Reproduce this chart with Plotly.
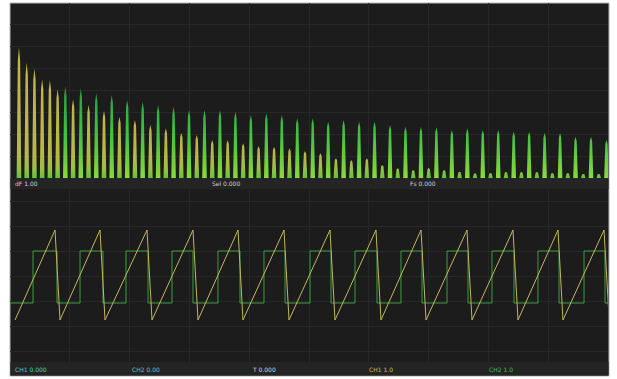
import plotly.graph_objects as go
from plotly.subplots import make_subplots

# spectrum peaks (harmonic index, level in dB)
saw_n = [1, 2, 3, 4, 5, 6, 8, 10, 12, 14, 16, 18, 20, 22, 24, 26, 28, 30, 32, 34, 36,
         38, 40, 42, 44, 46, 48, 50, 52, 54, 56, 58, 60, 62, 64, 66, 68, 70, 72, 74, 76]
saw_db = [-25.3, -34.1, -37.3, -43.5, -43.9, -49.2, -54.9, -58.2, -61.4, -64.9, -66.7,
          -69.6, -71.5, -74.0, -75.3, -78.2, -78.2, -80.0, -81.6, -82.0, -82.9, -84.4,
          -85.7, -88.6, -89.6, -88.6, -92.4, -94.3, -95.3, -94.1, -95.3, -96.2, -97.1,
          -97.0, -96.4, -96.4, -96.4, -97.0, -97.0, -97.5, -97.5]
sq_n = [7, 9, 11, 13, 15, 17, 19, 21, 23, 25, 27, 29, 31, 33, 35, 37, 39, 41, 43, 45,
        47, 49, 51, 53, 55, 57, 59, 61, 63, 65, 67, 69, 71, 73, 75, 77]
sq_db = [-47.7, -48.7, -51.5, -52.5, -55.3, -56.3, -58.2, -59.2, -61.0, -61.0, -61.0,
         -62.0, -63.9, -62.9, -63.9, -65.8, -65.8, -67.7, -66.7, -67.7, -67.7, -69.6,
         -70.6, -70.6, -70.9, -72.4, -71.5, -72.4, -72.4, -73.4, -73.4, -74.2, -74.2,
         -76.3, -76.3, -78.2]

# waveforms (time in ms)
saw_trough_t = [0.084, 0.836, 1.589, 2.375, 3.144, 3.896, 4.666, 5.435, 6.204, 6.957,
                7.726, 8.495, 9.247, 10.02]
saw_peak_t = [0.753, 1.505, 2.291, 3.060, 3.813, 4.582, 5.351, 6.120, 6.873, 7.642,
              8.411, 9.164, 9.933]
saw_low, saw_high = -1.76, 1.84
sq_rise_t = [0.385, 1.171, 1.940, 2.709, 3.478, 4.247, 5.017, 5.769, 6.538, 7.308,
             8.060, 8.829, 9.599]
sq_fall_t = [0.786, 1.555, 2.308, 3.060, 3.846, 4.599, 5.368, 6.137, 6.890, 7.659,
             8.428, 9.181, 9.950]
sq_low, sq_high = -1.08, 1.0

W, H = 617, 379
FLOOR = -100


def px(v, total):
    return v / total


def spikes(ns, levels, half=0.3):
    # narrow spike: wider base, slim body, pointed tip
    xs, ys = [], []
    for n, v in zip(ns, levels):
        knee = FLOOR + 0.9 * (v - FLOOR)
        xs += [n - half, n - half * 0.5, n, n + half * 0.5, n + half, None]
        ys += [FLOOR, knee, v, knee, FLOOR, None]
    return xs, ys


fig = make_subplots(rows=2, cols=1)

sx, sy = spikes(saw_n, saw_db)
qx, qy = spikes(sq_n, sq_db)
fig.add_trace(go.Scatter(
    x=qx, y=qy, mode='lines', fill='toself', line={'width': 0},
    fillgradient={'type': 'vertical', 'start': FLOOR, 'stop': -45,
                  'colorscale': [[0, '#8ad83c'], [0.4, '#48c440'], [1, '#1f9a46']]},
    showlegend=False, hoverinfo='skip',
), row=1, col=1)
fig.add_trace(go.Scatter(
    x=sx, y=sy, mode='lines', fill='toself', line={'width': 0},
    fillgradient={'type': 'vertical', 'start': FLOOR, 'stop': -25,
                  'colorscale': [[0, '#58c638'], [0.07, '#9cc040'], [0.18, '#b6b848'],
                                 [1, '#c6b44c']]},
    showlegend=False, hoverinfo='skip',
), row=1, col=1)

saw_t, saw_v = [], []
for i, tt in enumerate(saw_trough_t):
    saw_t.append(tt)
    saw_v.append(saw_low)
    if i < len(saw_peak_t):
        saw_t.append(saw_peak_t[i])
        saw_v.append(saw_high)

sq_t, sq_v = [0], [sq_low]
for r, f in zip(sq_rise_t, sq_fall_t):
    sq_t += [r, f]
    sq_v += [sq_high, sq_low]
sq_t.append(10)
sq_v.append(sq_low)

fig.add_trace(go.Scatter(
    x=sq_t, y=sq_v, mode='lines', line={'color': '#3b9e3f', 'width': 1, 'shape': 'hv'},
    showlegend=False, hoverinfo='skip',
), row=2, col=1)
fig.add_trace(go.Scatter(
    x=saw_t, y=saw_v, mode='lines', line={'color': '#c4b85a', 'width': 1},
    showlegend=False, hoverinfo='skip',
), row=2, col=1)

grid = '#272727'
xd = [px(10, W), px(608, W)]
fig.update_xaxes(domain=xd, showticklabels=False, zeroline=False, ticks='',
                 showgrid=True, gridcolor=grid, gridwidth=1)
fig.update_yaxes(showticklabels=False, zeroline=False, ticks='',
                 showgrid=True, gridcolor=grid, gridwidth=1)
fig.update_xaxes(range=[-0.16, 77.2], tick0=-0.16, dtick=7.736, row=1, col=1)
fig.update_yaxes(range=[FLOOR, 0], dtick=12.5, domain=[1 - 178.3 / H, 1 - 3 / H], row=1, col=1)
fig.update_xaxes(range=[0, 10], dtick=1, row=2, col=1)
fig.update_yaxes(range=[-3.44, 3.44], dtick=1, domain=[1 - 362 / H, 1 - 190 / H], row=2, col=1)

shapes = [
    dict(type='rect', xref='paper', yref='paper', x0=px(10, W), x1=px(609, W),
         y0=1 - 376 / H, y1=1 - 3 / H, fillcolor='#1c1c1c',
         line={'color': '#b5b5b5', 'width': 1}, layer='below'),
    dict(type='rect', xref='paper', yref='paper', x0=px(10.5, W), x1=px(608.5, W),
         y0=1 - 189 / H, y1=1 - 178.3 / H, fillcolor='#242424',
         line={'width': 0}, layer='below'),
    dict(type='rect', xref='paper', yref='paper', x0=px(10.5, W), x1=px(608.5, W),
         y0=1 - 375.5 / H, y1=1 - 362 / H, fillcolor='#242424',
         line={'width': 0}, layer='below'),
]

labels = [
    ('dF 1.00', 13, 184, '#cfcfcf'),
    ('Sel 0.000', 210, 184, '#cfcfcf'),
    ('Fs 0.000', 408, 184, '#cfcfcf'),
    ('CH1 0.000', 13, 369, '#4fd0d0'),
    ('CH2 0.00', 130, 369, '#4fd0d0'),
    ('T 0.000', 250, 369, '#d8d8d8'),
    ('CH1 1.0', 367, 369, '#c8c060'),
    ('CH2 1.0', 487, 369, '#3fc04a'),
]
annotations = [
    dict(text=t, x=px(x, W), y=1 - y / H, xref='paper', yref='paper',
         xanchor='left', yanchor='middle', showarrow=False,
         font={'size': 6, 'color': c, 'family': 'DejaVu Sans'})
    for t, x, y, c in labels
]

fig.update_layout(
    width=W, height=H,
    margin={'l': 0, 'r': 0, 't': 0, 'b': 0},
    paper_bgcolor='#ffffff',
    plot_bgcolor='rgba(0,0,0,0)',
    shapes=shapes,
    annotations=annotations,
    showlegend=False,
)

fig.write_html('out.html', config={'displayModeBar': False},
               post_script="document.body.style.margin='0';")
